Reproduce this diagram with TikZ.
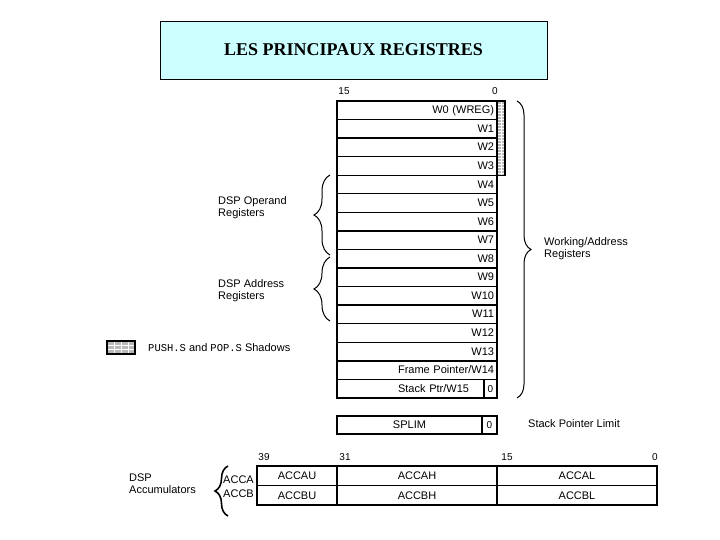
\documentclass[tikz,border=0pt]{standalone}
\usepackage{fontspec}
\setmainfont{Liberation Serif}
\setsansfont{Liberation Sans}
\newfontfamily\shadowtt{Liberation Mono}
\usepackage{xcolor}
\usetikzlibrary{positioning,decorations.pathreplacing}
\definecolor{titlecyan}{RGB}{204,255,255}
\definecolor{shadowgray}{RGB}{185,185,185}

\begin{document}
\begin{tikzpicture}[x=1pt, y=-1pt,
    reg/.style={rectangle, draw, line width=1.4pt, minimum height=18.56pt, text width=154pt, inner xsep=3pt, inner ysep=0pt, outer sep=0pt, align=right, font=\sffamily\fontsize{11}{12}\selectfont, text height=8pt, text depth=1pt},
    zcell/.style={rectangle, draw, line width=1.4pt, minimum width=13pt, minimum height=18.56pt, inner sep=0pt, outer sep=0pt, font=\sffamily\fontsize{10}{12}\selectfont},
    acc/.style={rectangle, draw, line width=1.4pt, minimum height=19.5pt, inner sep=0pt, outer sep=0pt, font=\sffamily\fontsize{11}{12}\selectfont},
    lbl/.style={font=\sffamily\fontsize{11}{12}\selectfont, align=left, inner sep=0pt},
    bit/.style={font=\sffamily\fontsize{10}{12}\selectfont, inner sep=0pt},
    shadow/.style n args={2}{rectangle, draw, line width=1.2pt, fill=shadowgray, inner sep=0pt, outer sep=0pt,
        path picture={\foreach \k in {1,...,30} {
            \draw[white, line width=0.6pt] ([xshift=\k*#1]path picture bounding box.south west) -- ([xshift=\k*#1]path picture bounding box.north west);
            \draw[white, line width=0.6pt] ([yshift=-\k*#2]path picture bounding box.north west) -- ([yshift=-\k*#2]path picture bounding box.north east);}}},
    brc/.style={decorate, decoration={brace, amplitude=#1}, line width=1pt}
]
\useasboundingbox (0,0) rectangle (720,540);

\node[draw, fill=titlecyan, minimum width=387pt, minimum height=58pt, inner sep=0pt, font=\bfseries\fontsize{18}{20}\selectfont] (title) at (353.5,50) {LES PRINCIPAUX REGISTRES};

\node[bit] (wb15) at (344,91) {15};
\node[bit] (wb0) at (495,91) {0};

\node[reg, anchor=north west] (w0) at (337,101) {W0 (WREG)};
\foreach \i [evaluate=\i as \j using int(\i-1)] in {1,...,13}
    \node[reg, below=0pt of w\j] (w\i) {W\i};
\node[reg, below=0pt of w13] (w14) {Frame Pointer/W14};
\node[reg, text width=117pt, inner xsep=15pt, anchor=north west] (w15) at (w14.south west) {Stack Ptr/W15};
\node[zcell, anchor=north west] (w15z) at (w15.north east) {0};

\node[shadow={4pt}{3pt}, minimum width=8pt, minimum height=74.24pt, anchor=north west] (shad) at (w0.north east) {};

\node[reg, text width=145pt, inner xsep=0pt, align=center, minimum height=18pt, anchor=north west] (splim) at (337,416) {SPLIM};
\node[zcell, minimum width=15pt, minimum height=18pt, anchor=north west] (splimz) at (splim.north east) {0};
\node[lbl, anchor=west] (splimlbl) at (528,424) {Stack Pointer Limit};

\draw[brc=14pt] ([xshift=20pt]w0.north east) -- ([xshift=20pt]w15z.south east);
\node[lbl, anchor=west] (wlbl) at (544,249) {Working/Address\\Registers};

\draw[brc=16pt] (330,255) -- (330,175);
\node[lbl, anchor=west] (oplbl) at (218,208) {DSP Operand\\Registers};
\draw[brc=16pt] (330,321) -- (330,257);
\node[lbl, anchor=west] (adlbl) at (218,291) {DSP Address\\Registers};

\node[shadow={7pt}{4.33pt}, minimum width=28pt, minimum height=13pt, anchor=north west] (legicon) at (107,341) {};
\node[lbl, anchor=west] (legtxt) at (148,348) {{\shadowtt\fontsize{10.5}{12}\selectfont PUSH.S} and {\shadowtt\fontsize{10.5}{12}\selectfont POP.S} Shadows};

\node[bit] (ab39) at (264,457) {39};
\node[bit] (ab31) at (345,457) {31};
\node[bit] (ab15) at (507,457) {15};
\node[bit] (ab0) at (655,457) {0};

\node[acc, minimum width=80pt, anchor=north west] (accau) at (257,466) {ACCAU};
\node[acc, minimum width=160pt, right=0pt of accau] (accah) {ACCAH};
\node[acc, minimum width=160pt, right=0pt of accah] (accal) {ACCAL};
\node[acc, minimum width=80pt, below=0pt of accau] (accbu) {ACCBU};
\node[acc, minimum width=160pt, right=0pt of accbu] (accbh) {ACCBH};
\node[acc, minimum width=160pt, right=0pt of accbh] (accbl) {ACCBL};

\node[lbl, anchor=east] (acca) at (254,480) {ACCA};
\node[lbl, anchor=east] (accb) at (254,494) {ACCB};
\draw[brc=13pt, line width=1.6pt] (228,516) -- (228,466);
\node[lbl, anchor=west] (acclbl) at (129,484) {DSP\\Accumulators};
\end{tikzpicture}
\end{document}
